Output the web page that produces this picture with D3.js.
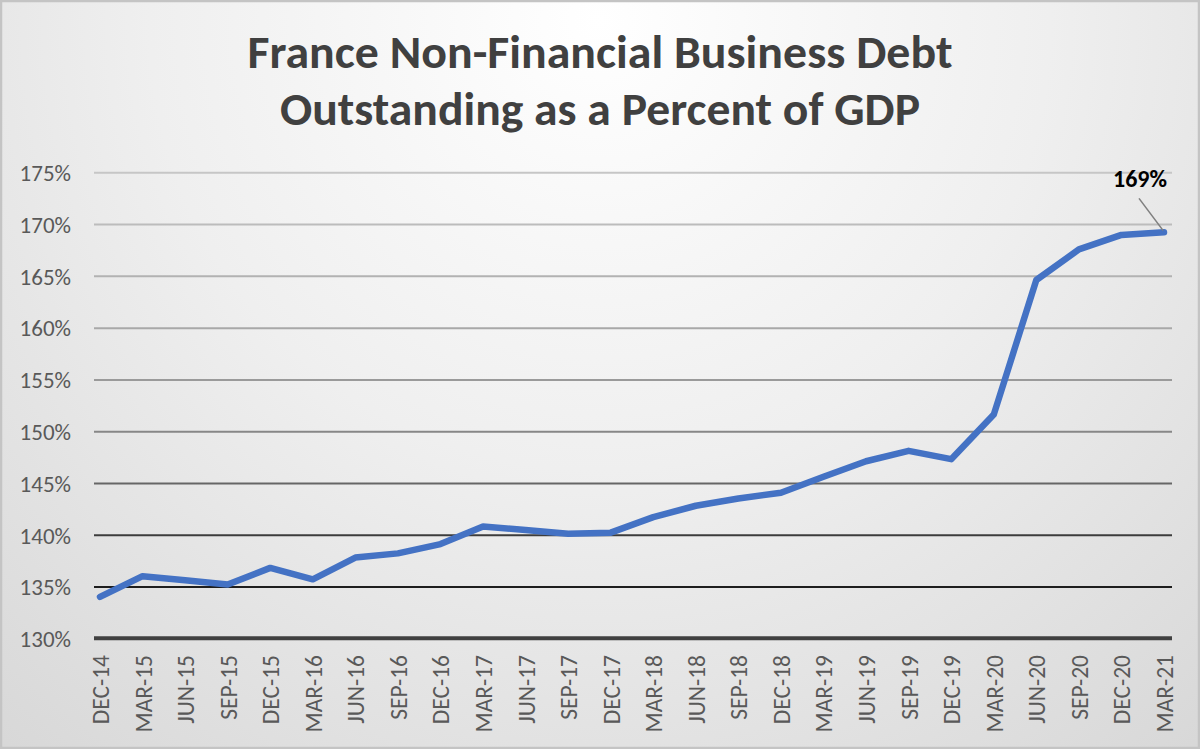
<!DOCTYPE html>
<html>
<head>
<meta charset="utf-8">
<script src="https://cdn.jsdelivr.net/npm/d3@7"></script>
<style>
  html, body { margin: 0; padding: 0; background: #fff; }
  svg { display: block; }
  text { font-family: Carlito, Calibri, Lato, "Open Sans", sans-serif; }
</style>
</head>
<body>
<svg id="chart" width="1200" height="749"></svg>
<script>
// Quarterly non-financial corporate debt, % of GDP
const categories = [
  "DEC-14","MAR-15","JUN-15","SEP-15","DEC-15","MAR-16","JUN-16","SEP-16","DEC-16",
  "MAR-17","JUN-17","SEP-17","DEC-17","MAR-18","JUN-18","SEP-18","DEC-18",
  "MAR-19","JUN-19","SEP-19","DEC-19","MAR-20","JUN-20","SEP-20","DEC-20","MAR-21"
];
const debtPct = [
  134.0, 136.0, 135.6, 135.2, 136.8, 135.7, 137.8, 138.2, 139.1,
  140.8, 140.45, 140.1, 140.2, 141.7, 142.8, 143.5, 144.05,
  145.6, 147.1, 148.1, 147.3, 151.6, 164.6, 167.55, 168.95, 169.2
];
const yTicks = [130, 135, 140, 145, 150, 155, 160, 165, 170, 175];
const titleLines = ["France Non-Financial Business Debt", "Outstanding as a Percent of GDP"];
const lastLabel = "169%";

const W = 1200, H = 749;
const FONT = "Carlito, Calibri, Lato, sans-serif";
const svg = d3.select("#chart");
const defs = svg.append("defs");

// Soft radial background, bright at the top centre
const bg = defs.append("radialGradient")
  .attr("id", "bgGrad").attr("gradientUnits", "userSpaceOnUse")
  .attr("cx", 600).attr("cy", 20).attr("r", 1000);
bg.append("stop").attr("offset", "0").attr("stop-color", "#ffffff");
bg.append("stop").attr("offset", "0.45").attr("stop-color", "#efefef");
bg.append("stop").attr("offset", "1").attr("stop-color", "#d5d5d5");

svg.append("rect").attr("x", 0).attr("y", 0).attr("width", W).attr("height", H)
  .attr("fill", "url(#bgGrad)");
svg.append("rect").attr("x", 1).attr("y", 1).attr("width", W - 2).attr("height", H - 2)
  .attr("fill", "none").attr("stroke", "#c4c4c4").attr("stroke-width", 2.5);

// Scales
const x = d3.scalePoint().domain(categories).range([100, 1164]);
const y = d3.scaleLinear().domain([130, 175]).range([638.3, 172.3]);
const gridX0 = 94, gridX1 = 1172;

// Gridlines shade from light grey at the top to near-black at the bottom
const gridShade = d3.scaleLinear()
  .domain([175, 160, 155, 150, 145, 140, 135])
  .range(["#c6c6c6", "#a8a8a8", "#9a9a9a", "#878787", "#666666", "#3c3c3c", "#1e1e1e"]);

const yAxis = d3.axisLeft(y).tickValues(yTicks).tickSize(-(gridX1 - gridX0))
  .tickFormat(d => d + "%");
const yg = svg.append("g").attr("transform", `translate(${gridX0},0)`).call(yAxis);
yg.select(".domain").remove();
yg.selectAll(".tick line")
  .attr("stroke", d => gridShade(d)).attr("stroke-width", 2)
  .filter(d => d === 130).remove();
yg.selectAll(".tick text")
  .attr("x", 71 - gridX0).attr("dy", "0.36em")
  .attr("fill", "#595959").attr("font-size", 23)
  .style("font-family", FONT);

// Category axis (bold baseline at 130%)
const xAxis = d3.axisBottom(x).tickSize(0).tickPadding(0);
const xg = svg.append("g").attr("transform", `translate(0,${y(130)})`).call(xAxis);
xg.select(".domain").remove();
xg.selectAll(".tick text")
  .attr("transform", "rotate(-90)")
  .attr("x", -(655 - y(130)))
  .attr("y", 0)
  .attr("dy", "0.36em")
  .attr("text-anchor", "end")
  .attr("fill", "#595959").attr("font-size", 23.5)
  .style("font-family", FONT);
svg.append("line")
  .attr("x1", gridX0).attr("x2", gridX1)
  .attr("y1", y(130)).attr("y2", y(130))
  .attr("stroke", "#404040").attr("stroke-width", 4);

// Series line
const line = d3.line().x((d, i) => x(categories[i])).y(d => y(d));
svg.append("path").datum(debtPct)
  .attr("d", line)
  .attr("fill", "none").attr("stroke", "#4472C4")
  .attr("stroke-width", 6.5)
  .attr("stroke-linejoin", "round").attr("stroke-linecap", "round");

// Data label on the latest quarter with a leader line
const lastI = debtPct.length - 1;
const px = x(categories[lastI]), py = y(debtPct[lastI]);
svg.append("line")
  .attr("x1", px - 25).attr("y1", py - 34)
  .attr("x2", px - 1).attr("y2", py - 2)
  .attr("stroke", "#7f7f7f").attr("stroke-width", 1.5);
svg.append("text")
  .attr("x", px - 24).attr("y", py - 45)
  .attr("text-anchor", "middle")
  .attr("font-size", 24).attr("font-weight", "bold").attr("fill", "#000")
  .style("font-family", FONT)
  .text(lastLabel);

// Title
const title = svg.append("g");
const tWidths = [705, 640];
titleLines.forEach((t, i) => {
  const el = title.append("text")
    .attr("x", 600).attr("y", 67.5 + i * 57)
    .attr("text-anchor", "middle")
    .attr("font-size", 46).attr("font-weight", "bold").attr("fill", "#404040")
    .style("font-family", FONT)
    .text(t);
  const w = el.node().getComputedTextLength();
  if (Math.abs(w - tWidths[i]) > 4) {
    el.attr("textLength", tWidths[i]).attr("lengthAdjust", "spacingAndGlyphs");
  }
});
</script>
</body>
</html>
